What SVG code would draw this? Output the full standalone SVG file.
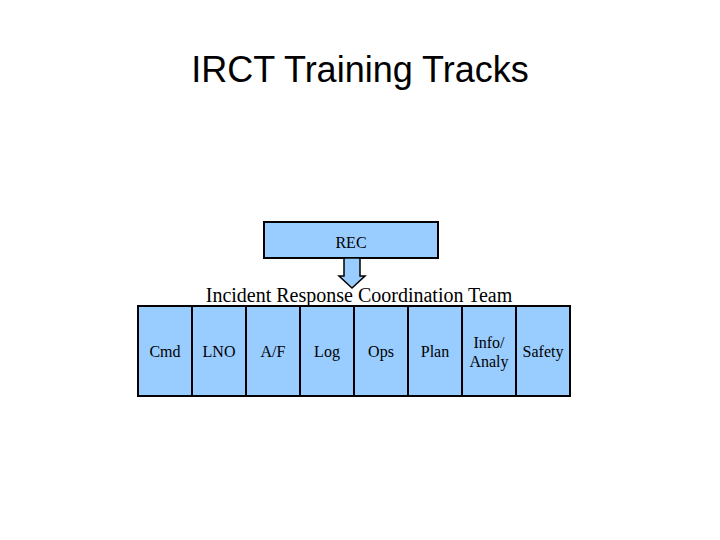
<svg xmlns="http://www.w3.org/2000/svg" width="720" height="540" viewBox="0 0 720 540">
<style>
.b{fill:#99ccff;stroke:#000;stroke-width:2}
.t{font-family:"Liberation Serif",serif;font-size:16px;text-anchor:middle;fill:#000}
</style>
<rect width="720" height="540" fill="#fff"/>
<text x="360" y="82" font-family="Liberation Sans,sans-serif" font-size="36" text-anchor="middle">IRCT Training Tracks</text>
<g id="rec"><rect class="b" x="264" y="222" width="174" height="36"/><text class="t" x="351" y="248" font-size="20">REC</text></g>
<g id="connectors"><path d="M344 258V276H339L352 288L365 276H360V258Z" fill="#99ccff" stroke="#000" stroke-width="1.5"/></g>
<text class="t" x="359" y="302" style="font-size:20px">Incident Response Coordination Team</text>
<g id="cmd"><rect class="b" x="138" y="306" width="54" height="90"/><text class="t" x="165" y="357">Cmd</text></g>
<g id="lno"><rect class="b" x="192" y="306" width="54" height="90"/><text class="t" x="219" y="357">LNO</text></g>
<g id="af"><rect class="b" x="246" y="306" width="54" height="90"/><text class="t" x="273" y="357">A/F</text></g>
<g id="log"><rect class="b" x="300" y="306" width="54" height="90"/><text class="t" x="327" y="357">Log</text></g>
<g id="ops"><rect class="b" x="354" y="306" width="54" height="90"/><text class="t" x="381" y="357">Ops</text></g>
<g id="plan"><rect class="b" x="408" y="306" width="54" height="90"/><text class="t" x="435" y="357">Plan</text></g>
<g id="info"><rect class="b" x="462" y="306" width="54" height="90"/><text class="t" x="489" y="348">Info/</text><text class="t" x="489" y="367">Analy</text></g>
<g id="safety"><rect class="b" x="516" y="306" width="54" height="90"/><text class="t" x="543" y="357">Safety</text></g>
</svg>
